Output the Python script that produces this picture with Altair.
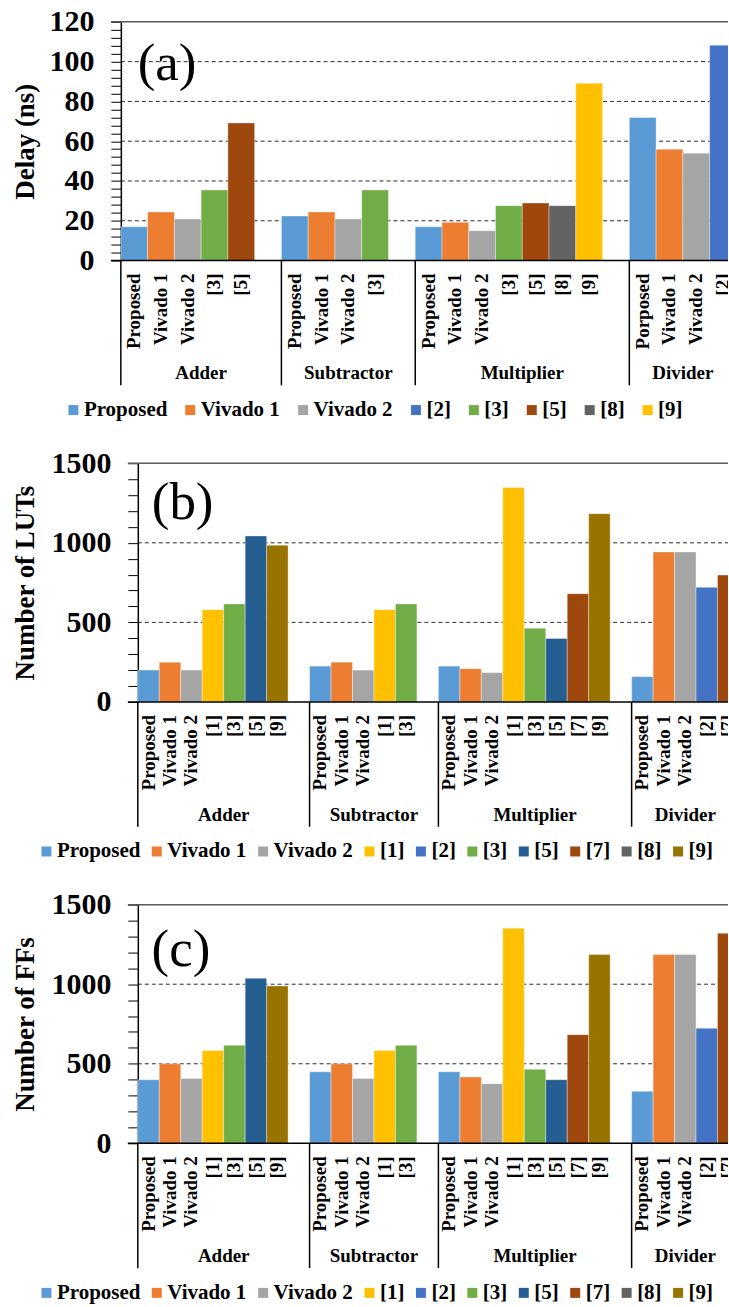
import altair as alt
import pandas as pd

FONT = "Liberation Serif, Times New Roman, DejaVu Serif, serif"
GROUPS = ["Adder", "Subtractor", "Multiplier", "Divider"]

# (a) delay in ns, one list per operator group
DELAY_LABELS = [
    ["Proposed", "Vivado 1", "Vivado 2", "[3]", "[5]"],
    ["Proposed", "Vivado 1", "Vivado 2", "[3]"],
    ["Proposed", "Vivado 1", "Vivado 2", "[3]", "[5]", "[8]", "[9]"],
    ["Porposed", "Vivado 1", "Vivado 2", "[2]"],
]
DELAY_VALUES = [
    [17.0, 24.4, 20.9, 35.5, 69.2],
    [22.4, 24.4, 20.9, 35.5],
    [17.0, 19.2, 15.0, 27.6, 28.9, 27.6, 89.1],
    [71.9, 56.0, 54.0, 108.3],
]
DELAY_SERIES = ["Proposed", "Vivado 1", "Vivado 2", "[2]", "[3]", "[5]", "[8]", "[9]"]
DELAY_COLORS = ["#5B9BD5", "#ED7D31", "#A5A5A5", "#4472C4", "#70AD47", "#9E480E", "#636363", "#FFC000"]

# (b) LUTs and (c) FFs share the same designs per group
RES_LABELS = [
    ["Proposed", "Vivado 1", "Vivado 2", "[1]", "[3]", "[5]", "[9]"],
    ["Proposed", "Vivado 1", "Vivado 2", "[1]", "[3]"],
    ["Proposed", "Vivado 1", "Vivado 2", "[1]", "[3]", "[5]", "[7]", "[9]"],
    ["Proposed", "Vivado 1", "Vivado 2", "[2]", "[7]"],
]
LUT_VALUES = [
    [200, 250, 200, 580, 616, 1043, 985],
    [225, 250, 200, 580, 616],
    [225, 209, 184, 1348, 463, 399, 680, 1183],
    [159, 943, 943, 720, 797],
]
FF_VALUES = [
    [400, 500, 407, 583, 616, 1037, 989],
    [450, 500, 407, 583, 616],
    [450, 417, 375, 1351, 465, 400, 683, 1186],
    [327, 1186, 1186, 723, 1320],
]
RES_SERIES = ["Proposed", "Vivado 1", "Vivado 2", "[1]", "[2]", "[3]", "[5]", "[7]", "[8]", "[9]"]
RES_COLORS = ["#5B9BD5", "#ED7D31", "#A5A5A5", "#FFC000", "#4472C4", "#70AD47",
              "#255E91", "#9E480E", "#636363", "#997300"]

# category label -> legend series (typo kept on the axis)
SERIES_OF = {"Porposed": "Proposed"}

H = 239            # height of the value axis
VIEW_H = H + 130   # view also holds the two-level category labels
W = 608            # visible plot width (the Divider group runs off the right edge)
TITLE_CX = 26      # horizontal centre of the y titles (page coordinates)
VIEW_X = 121       # left edge of every view (page coordinates)


def panel(labels, values, series, colors, y_max, y_major, y_minor, y_title,
          tag, tag_x, tag_y, slot_px, axis_in, col_pad, legend_x):
    bars, groups = [], []
    pos = 0
    for gi, (g, labs, vals) in enumerate(zip(GROUPS, labels, values)):
        for i, (lab, v) in enumerate(zip(labs, vals)):
            bars.append({"group": g, "label": lab, "series": SERIES_OF.get(lab, lab),
                         "value": v, "x0": pos + i, "x1": pos + i + 1, "xc": pos + i + 0.5})
        span = len(labs) + (1 if gi < len(GROUPS) - 1 else 0)
        groups.append({"group": g, "x0": pos, "xc": pos + span / 2})
        pos += span

    bar_df = pd.DataFrame(bars)
    group_df = pd.DataFrame(groups)
    xs = alt.Scale(domain=[0, (W - axis_in) / slot_px], range=[axis_in, W], nice=False, zero=False)
    ys = alt.Scale(domain=[0, y_max], range=[H, 0], nice=False, zero=True)

    y_axis = alt.Axis(
        values=list(range(0, y_max + 1, y_minor)),
        labelExpr=f"datum.value % {y_major} == 0 ? datum.label : ''",
        format="d", grid=False, offset=-axis_in,
        domainColor="black", domainWidth=1.5,
        tickColor="black", tickSize=10, tickWidth=1,
        labelFont=FONT, labelFontSize=30, labelFontWeight="bold", labelColor="black",
        labelPadding=17, labelOverlap=False,
        title=y_title, titleFont=FONT, titleFontSize=27, titleFontWeight="bold",
        titleColor="black", titleAngle=270, titleAlign="center", titleBaseline="middle",
        titleX=TITLE_CX - (VIEW_X + axis_in), titleY=H / 2,
    )

    def yenc(field):
        return alt.Y(field, scale=ys, axis=y_axis)

    grid_df = pd.DataFrame({"value": list(range(y_major, y_max, y_major))})
    grid = alt.Chart(grid_df).mark_rule(color="#2b2b2b", strokeWidth=1, strokeDash=[4, 3]).encode(
        y=yenc("value:Q"), x=alt.value(axis_in), x2=alt.value(W),
    )

    bar_layer = alt.Chart(bar_df).mark_rect(
        clip=True, stroke="white", strokeWidth=0.7, strokeOpacity=0.5
    ).encode(
        x=alt.X("x0:Q", scale=xs, axis=None), x2="x1",
        y=yenc("value:Q"),
        y2=alt.datum(0),
        color=alt.Color(
            "series:N",
            scale=alt.Scale(domain=series, range=colors),
            legend=alt.Legend(
                title=None, orient="none", legendX=legend_x, legendY=378,
                direction="horizontal", symbolType="square", symbolSize=100,
                symbolStrokeWidth=0, labelFont=FONT, labelFontSize=21,
                labelFontWeight="bold", labelColor="black", labelOffset=0,
                columnPadding=col_pad, padding=0,
            ),
        ),
    )

    top_line = alt.Chart(pd.DataFrame({"value": [y_max]})).mark_rule(
        color="#595959", strokeWidth=1.5
    ).encode(y=yenc("value:Q"), x=alt.value(axis_in - 10), x2=alt.value(W))
    zero_line = alt.Chart(pd.DataFrame({"value": [0]})).mark_rule(
        color="black", strokeWidth=1.5
    ).encode(y=yenc("value:Q"), x=alt.value(axis_in - 10), x2=alt.value(W))

    sub_labels = alt.Chart(bar_df).mark_text(
        clip=True, angle=270, align="right", baseline="middle", font=FONT, fontSize=19,
        fontWeight="bold", color="black",
    ).encode(x=alt.X("xc:Q", scale=xs, axis=None), y=alt.value(H + 13), text="label:N")

    separators = alt.Chart(group_df).mark_rule(color="black", strokeWidth=1.5).encode(
        x=alt.X("x0:Q", scale=xs, axis=None), y=alt.value(H), y2=alt.value(H + 125),
    )

    group_labels = alt.Chart(group_df).mark_text(
        clip=True, font=FONT, fontSize=19, fontWeight="bold", color="black", baseline="middle",
    ).encode(x=alt.X("xc:Q", scale=xs, axis=None), y=alt.value(H + 113), text="group:N")

    tag_df = pd.DataFrame({"t": [tag], "x": [tag_x], "value": [tag_y]})
    tag_mark = alt.Chart(tag_df).mark_text(
        align="left", baseline="middle", font=FONT, fontSize=53, color="black",
    ).encode(x=alt.X("x:Q", scale=xs, axis=None), y=yenc("value:Q"), text="t:N")

    return alt.layer(
        grid, bar_layer, top_line, zero_line, sub_labels, separators, group_labels, tag_mark
    ).properties(width=W, height=VIEW_H)


delay_panel = panel(DELAY_LABELS, DELAY_VALUES, DELAY_SERIES, DELAY_COLORS,
                    120, 20, 4, "Delay (ns)", "(a)", 0.63, 99,
                    26.8, 0, 12, -58)
lut_panel = panel(RES_LABELS, LUT_VALUES, RES_SERIES, RES_COLORS,
                  1500, 500, 100, "Number of LUTs", "(b)", 0.65, 1253,
                  21.5, 17, 5.5, -85)
ff_panel = panel(RES_LABELS, FF_VALUES, RES_SERIES, RES_COLORS,
                 1500, 500, 100, "Number of FFs", "(c)", 0.64, 1213,
                 21.5, 17, 5.5, -85)

chart = alt.vconcat(
    delay_panel, lut_panel, ff_panel, spacing=442 - VIEW_H, bounds="flush"
).resolve_scale(
    color="independent"
).resolve_legend(
    color="independent"
).properties(
    padding={"left": 12, "top": 6, "right": 0, "bottom": 0}, background="white"
).configure_view(stroke=None)

chart.save("out.html", embed_options={"renderer": "svg", "actions": False})
